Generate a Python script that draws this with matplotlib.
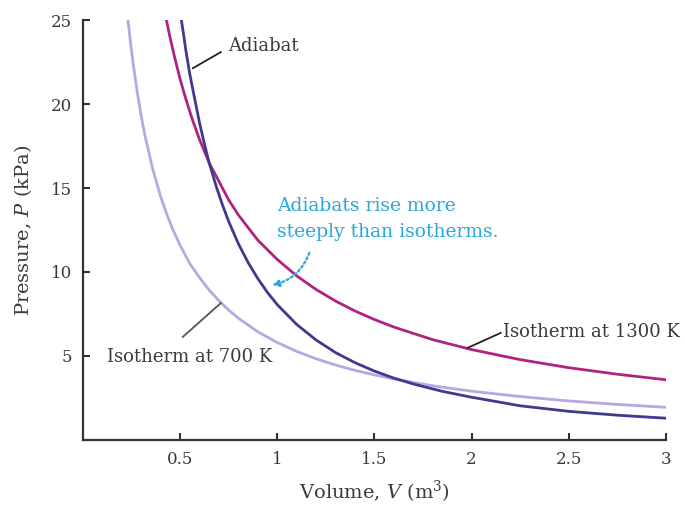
import matplotlib
matplotlib.use("Agg")
import matplotlib.pyplot as plt

# values (V in m^3, P in kPa)
v_700 = [0.23, 0.24, 0.25, 0.26, 0.27, 0.28, 0.30, 0.32, 0.34, 0.36, 0.38, 0.40,
         0.43, 0.46, 0.50, 0.55, 0.60, 0.65, 0.70, 0.75, 0.80, 0.90, 1.00, 1.10,
         1.20, 1.30, 1.40, 1.50, 1.60, 1.80, 2.00, 2.25, 2.50, 2.75, 3.00]
p_700 = [25.2, 24.2, 23.2, 22.3, 21.5, 20.7, 19.3, 18.1, 17.1, 16.1, 15.3, 14.5,
         13.5, 12.6, 11.6, 10.5, 9.67, 8.92, 8.29, 7.73, 7.25, 6.44, 5.80, 5.27,
         4.83, 4.46, 4.14, 3.87, 3.63, 3.22, 2.90, 2.58, 2.32, 2.11, 1.94]

v_1300 = [0.43, 0.45, 0.47, 0.50, 0.53, 0.56, 0.60, 0.65, 0.70, 0.75, 0.80, 0.90,
          1.00, 1.10, 1.20, 1.30, 1.40, 1.50, 1.60, 1.80, 2.00, 2.25, 2.50, 2.75, 3.00]
p_1300 = [25.0, 23.9, 22.9, 21.5, 20.3, 19.2, 17.9, 16.5, 15.4, 14.3, 13.4, 11.9,
          10.75, 9.77, 8.96, 8.27, 7.68, 7.17, 6.72, 5.97, 5.38, 4.78, 4.30, 3.91, 3.58]

v_adi = [0.507, 0.52, 0.53, 0.55, 0.567, 0.60, 0.627, 0.65, 0.687, 0.72, 0.75, 0.80,
         0.85, 0.90, 0.95, 1.00, 1.10, 1.20, 1.30, 1.40, 1.50, 1.60, 1.70, 1.85,
         2.00, 2.25, 2.50, 2.75, 3.00]
p_adi = [25.0, 24.0, 23.2, 21.8, 20.8, 18.9, 17.55, 16.5, 15.07, 13.94, 13.02, 11.69,
         10.57, 9.61, 8.78, 8.06, 6.88, 5.95, 5.20, 4.60, 4.10, 3.68, 3.33, 2.89,
         2.54, 2.03, 1.70, 1.47, 1.29]

x_ticks = [0.5, 1, 1.5, 2, 2.5, 3]
x_labels = ["0.5", "1", "1.5", "2", "2.5", "3"]
y_ticks = [5, 10, 15, 20, 25]

plt.rcParams["font.family"] = ["DejaVu Serif"]
plt.rcParams["mathtext.fontset"] = "dejavuserif"

txt = "#3a3a3a"
fig = plt.figure(figsize=(6.85, 5.05), dpi=100)
ax = fig.add_axes([0.121, 0.129, 0.851, 0.831])

ax.plot(v_700, p_700, color="#b8a8e2", lw=2.0)
ax.plot(v_1300, p_1300, color="#b0247f", lw=2.0)
ax.plot(v_adi, p_adi, color="#3e3a8e", lw=2.0)

ax.set_xlim(0, 3)
ax.set_ylim(0, 25)
ax.set_xticks(x_ticks)
ax.set_xticklabels(x_labels)
ax.set_yticks(y_ticks)
for s in ["top", "right"]:
    ax.spines[s].set_visible(False)
for s in ["left", "bottom"]:
    ax.spines[s].set_linewidth(1.6)
    ax.spines[s].set_color("#333333")
ax.tick_params(direction="in", length=5, width=1.5, color="#333333",
               labelsize=12, labelcolor=txt, pad=8)

ax.set_xlabel("Volume, $V$ (m$^3$)", fontsize=14, color=txt, labelpad=8)
ax.set_ylabel("Pressure, $P$ (kPa)", fontsize=14, color=txt, labelpad=12)

# curve labels with leader lines
ax.plot([0.566, 0.71], [22.14, 23.1], color="#222222", lw=1.3)
ax.text(0.745, 23.45, "Adiabat", fontsize=13, color=txt, va="center")

ax.plot([0.514, 0.71], [6.13, 8.15], color="#555555", lw=1.3)
ax.text(0.123, 4.94, "Isotherm at 700 K", fontsize=13, color=txt, va="center")

ax.plot([1.98, 2.15], [5.48, 6.37], color="#222222", lw=1.3)
ax.text(2.16, 6.43, "Isotherm at 1300 K", fontsize=13, color=txt, va="center")

ax.text(0.997, 13.15, "Adiabats rise more\nsteeply than isotherms.", fontsize=13.5,
        color="#2aa6de", va="center", linespacing=1.55)
ax.annotate("", xy=(0.96, 9.2), xytext=(1.17, 11.3),
            arrowprops=dict(arrowstyle="-|>", color="#2aa6de", lw=1.6,
                            linestyle=(0, (1, 1.2)), mutation_scale=10,
                            connectionstyle="arc3,rad=-0.3"))

fig.savefig("out.png", dpi=100)
